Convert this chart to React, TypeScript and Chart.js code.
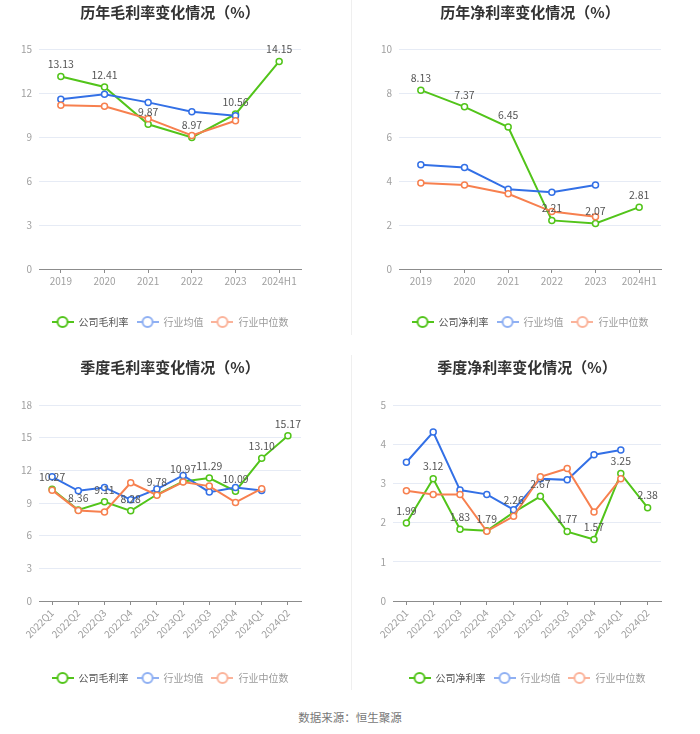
import React, { useEffect, useRef } from "react";
import { Chart, registerables } from "chart.js";

Chart.register(...registerables);

// ---------- data ----------
const yearLabels = ["2019", "2020", "2021", "2022", "2023", "2024H1"];
const yearGrossCompany = [13.13, 12.41, 9.87, 8.97, 10.56, 14.15];
const yearGrossAvg = [11.57, 11.91, 11.36, 10.72, 10.45, null];
const yearGrossMedian = [11.16, 11.09, 10.25, 9.11, 10.11, null];

const yearNetCompany = [8.13, 7.37, 6.45, 2.21, 2.07, 2.81];
const yearNetAvg = [4.74, 4.61, 3.62, 3.49, 3.82, null];
const yearNetMedian = [3.91, 3.82, 3.42, 2.61, 2.38, null];

const quarterLabels = [
  "2022Q1", "2022Q2", "2022Q3", "2022Q4", "2023Q1",
  "2023Q2", "2023Q3", "2023Q4", "2024Q1", "2024Q2",
];
const qGrossCompany = [10.27, 8.36, 9.11, 8.28, 9.78, 10.97, 11.29, 10.09, 13.10, 15.17];
const qGrossAvg = [11.4, 10.12, 10.43, 9.3, 10.28, 11.53, 10.0, 10.43, 10.15, null];
const qGrossMedian = [10.18, 8.32, 8.17, 10.86, 9.72, 10.92, 10.55, 9.05, 10.31, null];

const qNetCompany = [1.99, 3.12, 1.83, 1.79, 2.26, 2.67, 1.77, 1.57, 3.25, 2.38];
const qNetAvg = [3.54, 4.31, 2.83, 2.72, 2.33, 3.12, 3.09, 3.73, 3.85, null];
const qNetMedian = [2.81, 2.72, 2.72, 1.78, 2.16, 3.17, 3.38, 2.27, 3.12, null];

const grossNames = ["公司毛利率", "行业均值", "行业中位数"];
const netNames = ["公司净利率", "行业均值", "行业中位数"];

// ---------- styles ----------
const FONT = '"Noto Sans CJK SC", "Noto Sans", sans-serif';
const COLORS = ["#52c41a", "#3370e6", "#f7804f"];
const LEGEND_COLORS = ["#52c41a", "#8fb0f3", "#fbb39a"];
const LEGEND_TEXT = ["#555555", "#9a9a9a", "#9a9a9a"];

function legendIcon(color: string): HTMLCanvasElement {
  const c = document.createElement("canvas");
  c.width = 22;
  c.height = 14;
  const ctx = c.getContext("2d")!;
  ctx.strokeStyle = color;
  ctx.lineWidth = 2;
  ctx.beginPath();
  ctx.moveTo(0, 7);
  ctx.lineTo(22, 7);
  ctx.stroke();
  ctx.fillStyle = "#fff";
  ctx.beginPath();
  ctx.arc(11, 7, 5, 0, Math.PI * 2);
  ctx.fill();
  ctx.stroke();
  return c;
}

const valueLabelPlugin = {
  id: "valueLabels",
  afterDatasetsDraw(chart: any) {
    const ctx = chart.ctx;
    const meta = chart.getDatasetMeta(0);
    const data = chart.data.datasets[0].data;
    ctx.save();
    ctx.font = `10.5px ${FONT}`;
    ctx.fillStyle = "#555";
    ctx.textAlign = "center";
    ctx.textBaseline = "bottom";
    meta.data.forEach((pt: any, i: number) => {
      const v = data[i];
      if (v == null) return;
      ctx.fillText(Number(v).toFixed(2), pt.x, pt.y - 7);
    });
    ctx.restore();
  },
};

type Spec = {
  title: string;
  labels: string[];
  series: (number | null)[][];
  names: string[];
  max: number;
  step: number;
  rotate: boolean;
  left: number;
  top: number;
  width: number;
  height: number;
  yWidth: number;
  padRight: number;
  titleTop: number;
  titleBottom: number;
  xHeight: number;
  padBottom: number;
};

function ChartPanel({ spec }: { spec: Spec }) {
  const ref = useRef<HTMLCanvasElement>(null);
  useEffect(() => {
    if (!ref.current) return;
    const icons = LEGEND_COLORS.map(legendIcon);
    const datasets = spec.series.map((d, i) => ({
      label: spec.names[i],
      data: d,
      borderColor: COLORS[i],
      backgroundColor: "#ffffff",
      pointBackgroundColor: "#ffffff",
      pointBorderColor: COLORS[i],
      pointBorderWidth: 1.5,
      pointRadius: 3,
      pointHoverRadius: 3,
      borderWidth: 2,
      tension: 0,
      order: 2 - i,
    }));
    const chart = new Chart(ref.current, {
      type: "line",
      data: { labels: spec.labels, datasets },
      plugins: [valueLabelPlugin],
      options: {
        animation: false,
        responsive: false,
        maintainAspectRatio: false,
        devicePixelRatio: 1,
        layout: {
          padding: { left: 0, right: spec.padRight, top: 0, bottom: spec.padBottom },
        },
        plugins: {
          tooltip: { enabled: false },
          title: {
            display: true,
            fullSize: false,
            text: spec.title,
            color: "#333",
            font: { family: FONT, size: 15, weight: "bold", lineHeight: 1.2 },
            padding: { top: spec.titleTop, bottom: spec.titleBottom },
          },
          legend: {
            display: true,
            fullSize: false,
            position: "bottom",
            labels: {
              usePointStyle: true,
              pointStyleWidth: 22,
              padding: 8,
              font: { family: FONT, size: 10 },
              generateLabels: (c: any) =>
                c.data.datasets.map((ds: any, i: number) => ({
                  text: ds.label,
                  pointStyle: icons[i],
                  fillStyle: "#fff",
                  strokeStyle: LEGEND_COLORS[i],
                  lineWidth: 0,
                  fontColor: LEGEND_TEXT[i],
                  hidden: false,
                  datasetIndex: i,
                })),
            },
          },
        },
        scales: {
          x: {
            type: "category",
            offset: true,
            afterFit: (s: any) => {
              s.height = spec.xHeight;
            },
            grid: {
              display: true,
              drawOnChartArea: false,
              drawTicks: true,
              tickLength: 4,
              color: "#8c8c8c",
              offset: false,
            },
            border: { display: true, color: "#8c8c8c", width: 1 },
            ticks: {
              color: "#a0a0a0",
              font: { family: FONT, size: 10 },
              padding: 2,
              autoSkip: false,
              maxRotation: spec.rotate ? 45 : 0,
              minRotation: spec.rotate ? 45 : 0,
            },
          },
          y: {
            min: 0,
            max: spec.max,
            afterFit: (s: any) => {
              s.width = spec.yWidth;
            },
            grid: { color: "#e6ebf5", drawTicks: false, lineWidth: 1 },
            border: { display: false },
            ticks: {
              stepSize: spec.step,
              color: "#a0a0a0",
              font: { family: FONT, size: 10 },
              padding: 7,
            },
          },
        },
      } as any,
    });
    return () => chart.destroy();
  }, [spec]);
  return (
    <div
      style={{
        position: "absolute",
        left: spec.left,
        top: spec.top,
        width: spec.width,
        height: spec.height,
      }}
    >
      <canvas ref={ref} width={spec.width} height={spec.height} style={{ display: "block" }} />
    </div>
  );
}

const specs: Spec[] = [
  {
    title: "历年毛利率变化情况（%）",
    labels: yearLabels,
    series: [yearGrossCompany, yearGrossAvg, yearGrossMedian],
    names: grossNames,
    max: 15,
    step: 3,
    rotate: false,
    left: 0,
    top: 0,
    width: 350,
    height: 340,
    yWidth: 39,
    padRight: 49,
    titleTop: 3,
    titleBottom: 28,
    xHeight: 40,
    padBottom: 3,
  },
  {
    title: "历年净利率变化情况（%）",
    labels: yearLabels,
    series: [yearNetCompany, yearNetAvg, yearNetMedian],
    names: netNames,
    max: 10,
    step: 2,
    rotate: false,
    left: 350,
    top: 0,
    width: 350,
    height: 340,
    yWidth: 49,
    padRight: 39,
    titleTop: 3,
    titleBottom: 28,
    xHeight: 40,
    padBottom: 3,
  },
  {
    title: "季度毛利率变化情况（%）",
    labels: quarterLabels,
    series: [qGrossCompany, qGrossAvg, qGrossMedian],
    names: grossNames,
    max: 18,
    step: 3,
    rotate: true,
    left: 0,
    top: 350,
    width: 350,
    height: 350,
    yWidth: 39,
    padRight: 49,
    titleTop: 8,
    titleBottom: 29,
    xHeight: 64,
    padBottom: 7,
  },
  {
    title: "季度净利率变化情况（%）",
    labels: quarterLabels,
    series: [qNetCompany, qNetAvg, qNetMedian],
    names: netNames,
    max: 5,
    step: 1,
    rotate: true,
    left: 350,
    top: 350,
    width: 350,
    height: 350,
    yWidth: 43,
    padRight: 39,
    titleTop: 8,
    titleBottom: 29,
    xHeight: 64,
    padBottom: 7,
  },
];

export default function App() {
  return (
    <div
      style={{
        position: "absolute",
        left: 0,
        top: 0,
        width: 700,
        height: 734,
        background: "#fff",
        overflow: "hidden",
      }}
    >
      {specs.map((s, i) => (
        <ChartPanel key={i} spec={s} />
      ))}
      <div style={{ position: "absolute", left: 351, top: 0, width: 1, height: 335, background: "#efefef" }} />
      <div style={{ position: "absolute", left: 351, top: 355, width: 1, height: 335, background: "#efefef" }} />
      <div
        style={{
          position: "absolute",
          left: 0,
          top: 708,
          width: 700,
          textAlign: "center",
          fontFamily: FONT,
          fontSize: 11.5,
          color: "#777",
          lineHeight: "18px",
        }}
      >
        数据来源：恒生聚源
      </div>
    </div>
  );
}
